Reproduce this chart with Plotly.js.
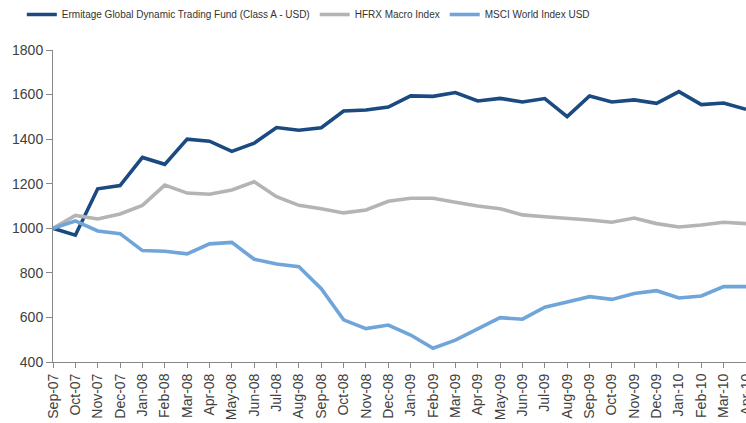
<!DOCTYPE html>
<html>
<head>
<meta charset="utf-8">
<script src="https://cdn.plot.ly/plotly-3.0.1.min.js"></script>
<style>
html,body{margin:0;padding:0;background:#fff;}
#chart{width:746px;height:423px;}
</style>
</head>
<body>
<div id="chart"></div>
<script>
const months = ["Sep-07","Oct-07","Nov-07","Dec-07","Jan-08","Feb-08","Mar-08","Apr-08","May-08","Jun-08","Jul-08","Aug-08","Sep-08","Oct-08","Nov-08","Dec-08","Jan-09","Feb-09","Mar-09","Apr-09","May-09","Jun-09","Jul-09","Aug-09","Sep-09","Oct-09","Nov-09","Dec-09","Jan-10","Feb-10","Mar-10","Apr-10"];
const ermitage = [1000,969,1177,1192,1318,1287,1400,1391,1345,1382,1452,1440,1451,1526,1531,1544,1594,1592,1609,1571,1583,1567,1582,1501,1594,1567,1576,1561,1613,1555,1562,1534];
const hfrx = [1000,1058,1042,1064,1103,1194,1158,1153,1172,1209,1142,1103,1088,1069,1082,1121,1135,1135,1117,1100,1088,1060,1052,1046,1037,1027,1046,1021,1006,1015,1027,1021];
const msci = [1000,1033,988,976,900,897,885,930,937,861,840,828,729,589,550,566,521,462,498,548,599,592,646,669,693,681,707,720,687,696,738,738];
const seriesNames = ["Ermitage Global Dynamic Trading Fund (Class A - USD)","HFRX Macro Index","MSCI World Index USD"];
const yTicks = [400,600,800,1000,1200,1400,1600,1800];

const colors = ["#1B4A80","#B4B4B4","#70A5DA"];
const data = [ermitage, hfrx, msci].map((ys,i)=>({
  type:"scatter", mode:"lines", x:months, y:ys, name:seriesNames[i],
  line:{color:colors[i], width:3.6}, cliponaxis:false
}));

const layout = {
  width:746, height:423,
  margin:{l:53, r:0, t:50, b:61},
  paper_bgcolor:"#fff", plot_bgcolor:"#fff",
  font:{family:"Liberation Sans, Arial, sans-serif", color:"#404040"},
  showlegend:true,
  legend:{orientation:"h", x:-0.045, xanchor:"left", y:1.115, yanchor:"middle",
          font:{size:10, color:"#333"},
          itemwidth:30, tracegroupgap:0},
  xaxis:{type:"category", range:[0,31], showgrid:false, zeroline:false,
         showline:true, linecolor:"#888", linewidth:1,
         ticks:"outside", ticklen:5, tickcolor:"#888",
         tickangle:-90, tickfont:{size:14, color:"#404040"}, automargin:false},
  yaxis:{range:[400,1800], tickvals:yTicks, showgrid:false, zeroline:false,
         showline:true, linecolor:"#888", linewidth:1,
         ticks:"outside", ticklen:6, tickcolor:"#888",
         tickfont:{size:14, color:"#404040"}, automargin:false}
};
Plotly.newPlot("chart", data, layout, {displayModeBar:false, staticPlot:true});
</script>
</body>
</html>
